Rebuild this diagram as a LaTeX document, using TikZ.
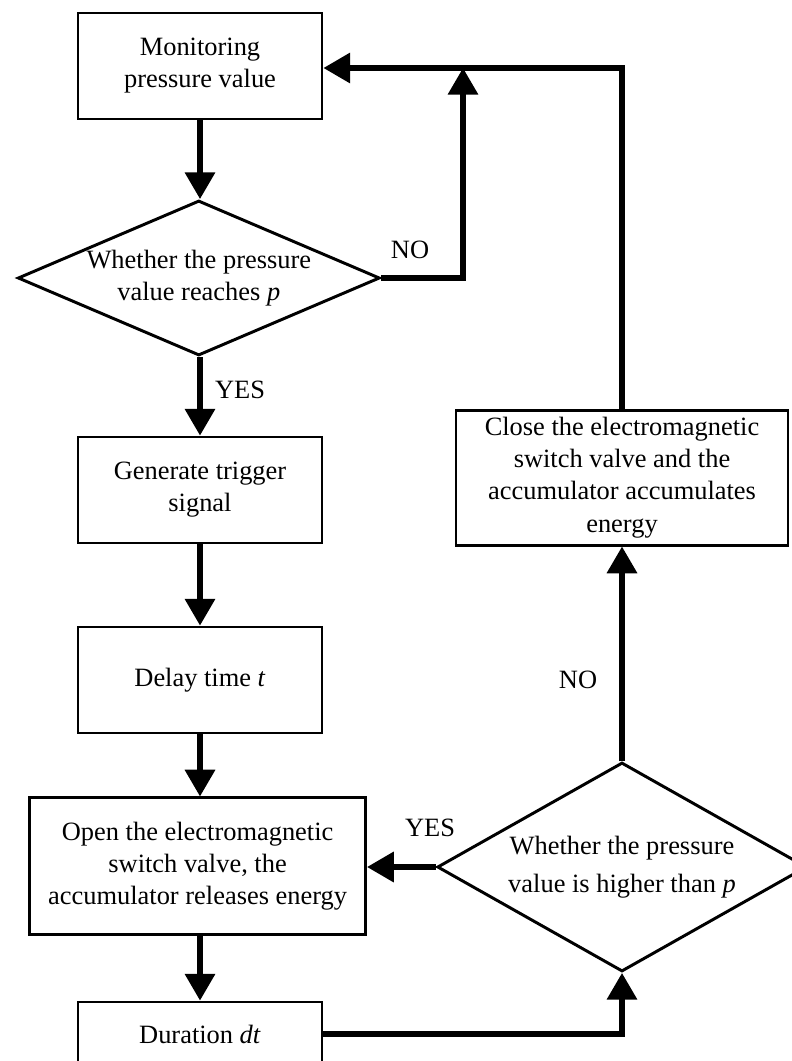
\documentclass[tikz,border=0pt]{standalone}
\usepackage{fontspec}
\setmainfont{Liberation Serif}
\usepackage{tikz}
\usetikzlibrary{shapes.geometric, arrows.meta, positioning, calc}

\begin{document}
\begin{tikzpicture}[
    proc/.style={rectangle, draw=black, line width=2.1pt, fill=white,
                 minimum width=6.1cm, minimum height=2.65cm, align=center,
                 inner sep=2pt, font=\fontsize{18.8}{22.8}\selectfont},
    decide/.style={diamond, draw=black, line width=2.1pt, fill=white,
                   minimum width=9.05cm, aspect=2.3, inner sep=0pt, align=center,
                   font=\fontsize{18.8}{22.8}\selectfont},
    lbl/.style={font=\fontsize{18.8}{22.8}\selectfont},
    arr/.style={-{Triangle[length=19pt, width=21pt]}, line width=3.6pt, draw=black}
]
\clip (0,0) rectangle (19.8,-26.525);
% left column: processing chain
\node[proc] (mon) at (5.0cm,-1.65cm) {Monitoring\\pressure value};
\node[decide, minimum height=3.875cm] (d1) at (4.97cm,-6.95cm) {Whether the pressure\\value reaches \textit{p}};
\node[proc] (gen) at (5.0cm,-12.25cm) {Generate trigger\\signal};
\node[proc] (delay) at (5.0cm,-17.0cm) {Delay time \textit{t}};
\node[proc, minimum width=8.4cm, minimum height=3.425cm] (open) at (4.94cm,-21.66cm)
    {Open the electromagnetic\\switch valve, the\\accumulator releases energy};
\node[proc, minimum height=1.6cm] (dur) at (5.0cm,-25.85cm) {Duration \textit{dt}};
% right column: check and recharge
\node[decide, minimum height=5.225cm] (d2) at (15.55cm,-21.675cm) {Whether the pressure\\[4pt]value is higher than \textit{p}};
\node[proc, minimum width=8.3cm, minimum height=3.375cm] (close) at (15.55cm,-11.94cm)
    {Close the electromagnetic\\switch valve and the\\accumulator accumulates\\energy};
% helper points on the return line
\coordinate (top) at (15.55cm,-1.7cm);
\coordinate (join) at (11.575cm,-1.7cm);
% branch labels
\node[lbl] (no1) at (10.25cm,-6.25cm) {NO};
\node[lbl] (yes1) at (6.0cm,-9.75cm) {YES};
\node[lbl] (yes2) at (10.75cm,-20.7cm) {YES};
\node[lbl] (no2) at (14.45cm,-17.0cm) {NO};
% main flow
\draw[arr] (mon) -- (mon |- d1.north);
\draw[arr] (gen |- d1.south) -- (gen);
\draw[arr] (gen) -- (delay);
\draw[arr] (delay) -- (delay |- open.north);
\draw[arr] (dur |- open.south) -- (dur);
\draw[arr] (dur.east) -| (d2.south);
\draw[arr] (d2.west) -- (open.east |- d2.west);
\draw[arr] (d2.north) -- (close.south);
% return lines to monitoring
\draw[arr] (close.north) -- (top) -- (mon.east |- top);
\draw[arr] (d1.east) -| (join);
\end{tikzpicture}
\end{document}
